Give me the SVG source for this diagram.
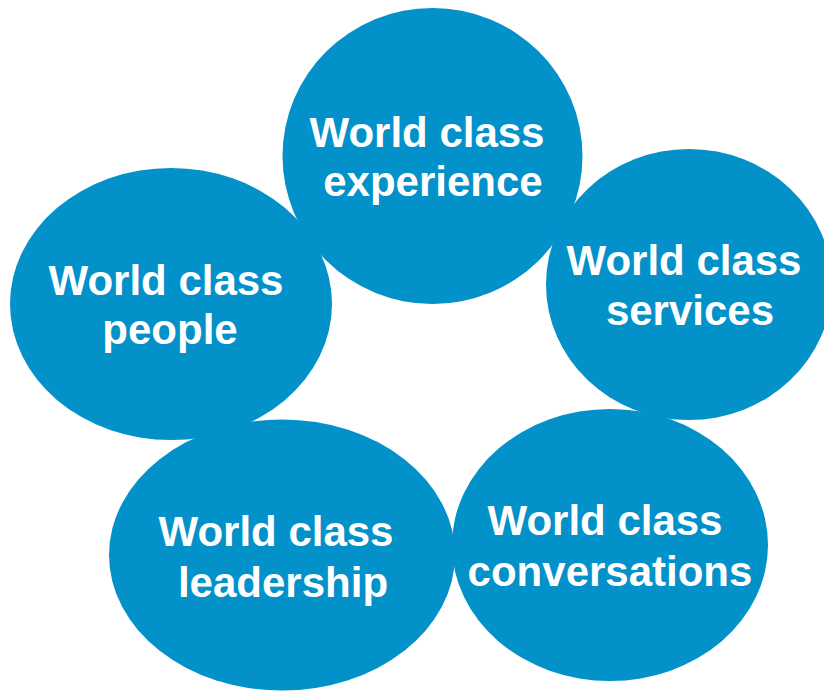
<svg xmlns="http://www.w3.org/2000/svg" width="824" height="692" viewBox="0 0 824 692">
<style>
.n{fill:#0291C9}
.t{fill:#fff;font-family:"Liberation Sans",Arial,sans-serif;font-weight:bold;font-size:42px;text-anchor:middle}
</style>
<rect width="824" height="692" fill="#fff"/>
<g id="connectors"></g>
<g id="people"><ellipse class="n" cx="171" cy="304" rx="161" ry="136"/><text class="t"><tspan x="166" y="295">World class</tspan><tspan x="170" y="344">people</tspan></text></g>
<g id="experience"><ellipse class="n" cx="432.5" cy="156" rx="150" ry="148"/><text class="t"><tspan x="427" y="147">World class</tspan><tspan x="433" y="196">experience</tspan></text></g>
<g id="services"><ellipse class="n" cx="689" cy="284.5" rx="143" ry="135.5"/><text class="t"><tspan x="684" y="275">World class</tspan><tspan x="690" y="325">services</tspan></text></g>
<g id="leadership"><ellipse class="n" cx="282" cy="555" rx="173" ry="135.5"/><text class="t"><tspan x="276" y="546">World class</tspan><tspan x="283" y="597">leadership</tspan></text></g>
<g id="conversations"><ellipse class="n" cx="610" cy="545" rx="158" ry="136"/><text class="t"><tspan x="605" y="535">World class</tspan><tspan x="610" y="586">conversations</tspan></text></g>
</svg>
